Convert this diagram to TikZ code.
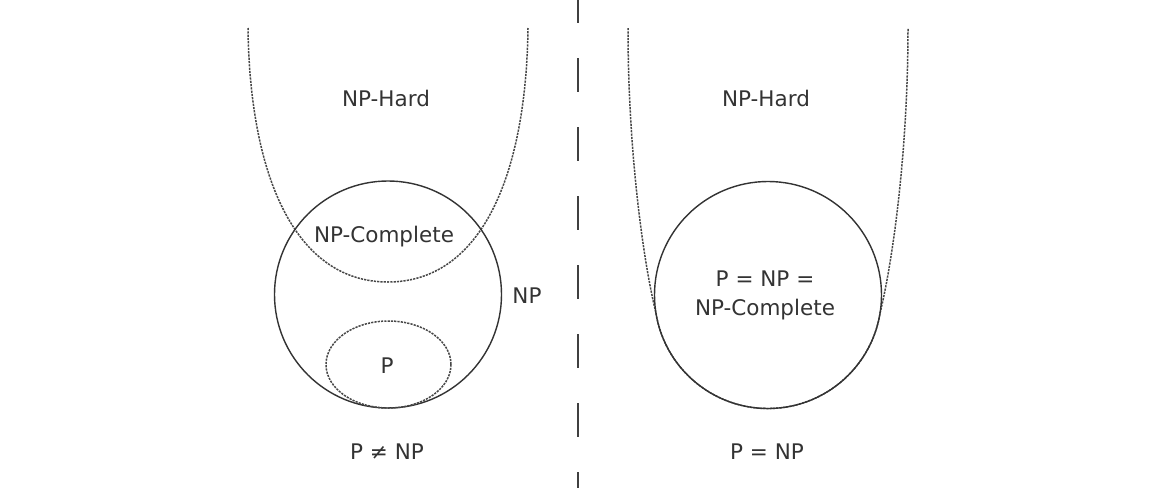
\documentclass[tikz,border=0pt]{standalone}
\usepackage{fontspec}
\setmainfont{DejaVu Sans}
\begin{document}
\begin{tikzpicture}[x=1pt,y=-1pt,
  solidline/.style={draw=black!80, line width=1.4pt},
  hardline/.style={draw=black!72, line width=1.5pt, dash pattern=on 2.2pt off 1.1pt},
  divider/.style={draw=black!75, line width=2pt, dash pattern=on 34pt off 35pt},
  lbl/.style={text=black!80, font=\fontsize{21.5}{29}\selectfont, inner sep=0pt, align=center}]
\useasboundingbox (0,0) rectangle (1168,488);
% divider
\coordinate (dtop) at (578,-11);
\coordinate (dbot) at (578,488);
\draw[divider] (dtop) -- (dbot);
% ---- left: P != NP ----
\coordinate (lhtl) at (248,28);
\coordinate (lhbot) at (388,282);
\coordinate (lhtr) at (528,28);
\draw[hardline] (lhtl) .. controls (250,182) and (298,282) .. (lhbot)
                .. controls (478,282) and (526,182) .. (lhtr);
\draw[solidline] (388,294.5) circle [radius=113.5];
\draw[hardline] (388.5,364.5) ellipse [x radius=62.5, y radius=43.5];
\node[lbl] (lhard) at (386,98) {NP-Hard};
\node[lbl] (lcomp) at (384,237) {NP-Complete};
\node[lbl] (lnp) at (527,296) {NP};
\node[lbl] (lp) at (387,366) {P};
\node[lbl] (lcap) at (387,451.5) {P ≠ NP};
% ---- right: P = NP ----
\coordinate (rhtl) at (628,28);
\coordinate (rhtr) at (908,28);
\coordinate (rtanl) at (655.9,312.8);
\coordinate (rtanr) at (880.1,312.8);
\draw[hardline] (rhtl) .. controls (628,150) and (643,260) .. (rtanl)
                arc[start angle=171, end angle=9, radius=113.5]
                .. controls (893,260) and (908,150) .. (rhtr);
\draw[solidline] (768,295) circle [radius=113.5];
\node[lbl] (rhard) at (766,98) {NP-Hard};
\node[lbl] (requal) at (765,295) {P = NP =\\NP-Complete};
\node[lbl] (rcap) at (767,451.5) {P = NP};
\end{tikzpicture}
\end{document}
